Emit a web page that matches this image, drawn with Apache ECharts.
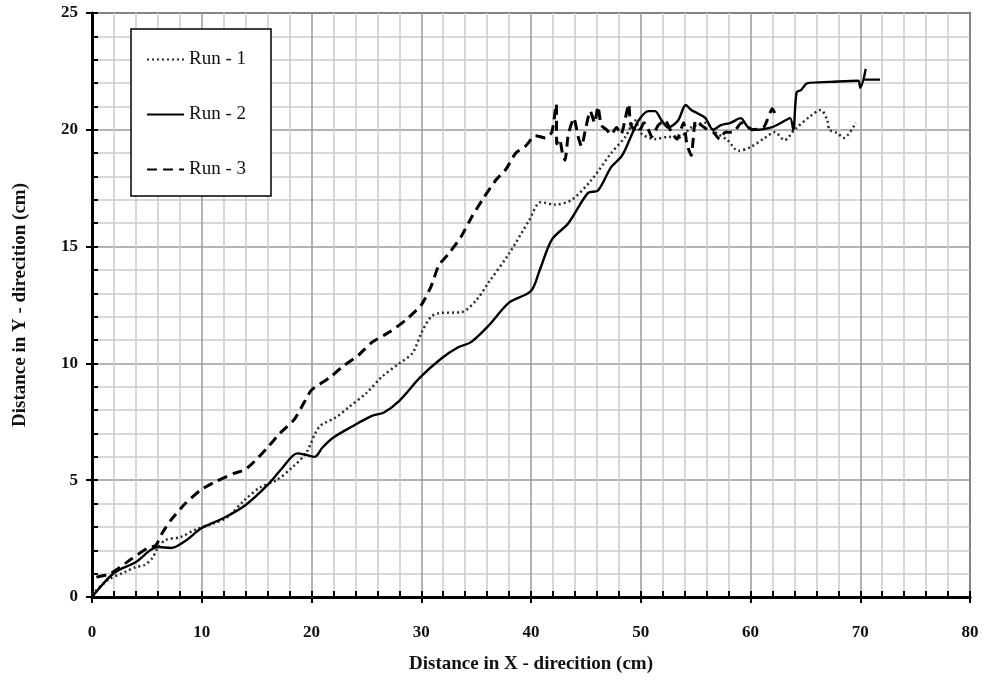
<!DOCTYPE html>
<html>
<head>
<meta charset="utf-8">
<script src="https://cdn.jsdelivr.net/npm/echarts@6/dist/echarts.min.js"></script>
<style>html,body{margin:0;padding:0;background:#fff;}#c{width:988px;height:683px;}</style>
</head>
<body>
<div id="c"></div>
<script>
var seriesNames = ['Run - 1', 'Run - 2', 'Run - 3'];
var xTickLabels = ['0','10','20','30','40','50','60','70','80'];
var yTickLabels = ['0','5','10','15','20','25'];

var run1X = [0,1.45,3.0,4.0,4.8,5.5,6.0,6.7,8.1,9.35,11.2,12.35,13.9,15.35,16.8,18.3,19.5,20.7,22.25,23.4,25.0,26.4,28.0,29.2,30.0,30.9,31.6,33.7,35.0,36.1,38.0,39.8,40.9,42.2,43.7,45.5,47.3,48.6,49.5,50.0,51.3,52.5,53.4,54.6,55.9,56.8,57.9,58.9,60.0,61.3,62.2,63.1,64.0,65.5,66.4,67.0,67.2,67.9,68.5,69.6];
var run1Y = [0.1,0.73,1.07,1.28,1.37,1.67,2.1,2.44,2.57,2.87,3.17,3.42,4.15,4.7,5.0,5.57,6.16,7.28,7.7,8.13,8.73,9.42,10.0,10.44,11.3,12.0,12.15,12.2,12.7,13.44,14.7,16.1,16.9,16.8,17.0,17.85,19.0,19.7,20.4,19.86,19.6,19.7,19.65,20.1,20.3,19.9,19.56,19.1,19.26,19.65,19.9,19.56,20.0,20.6,20.85,20.4,20.0,19.86,19.65,20.3];

var run2X = [0,2.0,4.0,5.3,6.0,7.2,8.5,10.0,12.0,14.0,16.0,17.3,18.7,19.4,20.3,21.0,21.9,23.7,25.5,26.6,28.0,29.9,31.8,33.4,34.5,36.1,38.0,40.0,40.8,41.9,43.4,45.2,46.1,47.3,48.3,49.1,49.8,50.7,51.3,51.9,52.5,53.4,54.1,54.6,55.2,55.9,56.6,57.3,58.2,59.1,59.8,60.7,61.9,62.8,63.6,63.9,64.2,64.6,65.2,67.3,69.8,70.0,70.5,70.3,71.8];
var run2Y = [0,1.03,1.5,2.0,2.14,2.1,2.4,2.95,3.38,3.94,4.8,5.5,6.15,6.1,6.0,6.4,6.8,7.3,7.75,7.9,8.4,9.4,10.2,10.7,10.9,11.6,12.6,13.1,14.0,15.3,16.0,17.3,17.4,18.4,18.9,19.7,20.4,20.8,20.8,20.4,20.1,20.4,21.06,20.85,20.7,20.5,20.0,20.2,20.3,20.5,20.1,20.0,20.1,20.3,20.5,20.0,21.6,21.7,22.0,22.05,22.1,21.8,22.6,22.15,22.15];

var run3X = [0.4,1.7,3.5,5.1,5.8,6.4,7.2,8.5,9.9,11.2,13.0,13.9,14.8,16.0,17.1,18.4,19.3,20.0,21.6,22.8,24.3,25.5,27.1,28.6,30.0,30.9,31.6,32.5,33.6,34.6,35.7,36.8,37.7,38.6,39.5,40.4,41.3,41.9,42.3,42.35,42.6,42.9,43.1,43.4,43.9,44.3,44.6,45.0,45.4,45.8,46.1,46.4,46.9,47.3,47.8,48.2,48.6,48.9,49.1,49.8,50.3,50.8,51.0,51.6,52.2,52.8,53.3,53.9,54.2,54.6,55.0,55.5,56.1,56.6,57.2,57.7,58.4,59.2,60.2,61.2,62.0,62.3];
var run3Y = [0.85,1.0,1.6,2.1,2.2,2.74,3.3,4.0,4.58,4.92,5.3,5.44,5.8,6.4,7.0,7.58,8.3,8.86,9.37,9.85,10.36,10.9,11.34,11.86,12.5,13.3,14.2,14.7,15.4,16.27,17.1,17.85,18.3,19.0,19.3,19.75,19.65,19.9,21.1,19.4,19.6,18.9,18.7,19.8,20.5,19.7,19.3,20.1,20.8,20.3,21.0,20.2,20.0,19.8,20.1,19.8,20.5,21.1,20.2,19.9,20.3,19.9,19.7,20.2,20.4,19.9,19.6,20.3,19.4,18.9,20.4,20.2,20.0,19.9,19.6,19.9,19.9,20.3,20.0,20.1,20.9,20.6];

function pairs(xs, ys){ return xs.map(function(x,i){ return [x, ys[i]]; }); }

var font = 'Liberation Serif';
var chart = echarts.init(document.getElementById('c'));
var axisCommon = {
  type: 'value',
  axisLine: {show: true, onZero: false, lineStyle: {color: '#000', width: 3}},
  axisTick: {show: true, inside: false, length: 6, lineStyle: {color: '#000', width: 2}},
  splitLine: {show: true, lineStyle: {color: '#9a9a9a', width: 1.5}},
  minorSplitLine: {show: true, lineStyle: {color: '#cccccc', width: 1.5}},
  axisLabel: {color: '#111', fontFamily: font, fontWeight: 'bold', fontSize: 17},
  nameLocation: 'middle',
  nameTextStyle: {color: '#111', fontFamily: font, fontWeight: 'bold', fontSize: 19}
};
var innerTicks = {
  type: 'value',
  axisLine: {show: false},
  axisLabel: {show: false},
  splitLine: {show: false},
  axisTick: {show: true, inside: true, length: 6, lineStyle: {color: '#000', width: 2}}
};
chart.setOption({
  animation: false,
  backgroundColor: '#fff',
  grid: {left: 92, right: 18, top: 13, bottom: 86, show: true, borderColor: '#444', borderWidth: 2, backgroundColor: 'transparent'},
  legend: {
    data: seriesNames,
    orient: 'vertical',
    left: 131, top: 29,
    padding: [21, 25, 17, 15],
    itemWidth: 37, itemHeight: 14, itemGap: 36,
    backgroundColor: '#fff',
    borderColor: '#000', borderWidth: 1.5, borderRadius: 0,
    itemStyle: {color: 'rgba(0,0,0,0)', borderColor: 'rgba(0,0,0,0)', borderWidth: 0, opacity: 0},
    textStyle: {color: '#111', fontFamily: font, fontSize: 19}
  },
  xAxis: [
    Object.assign({}, axisCommon, {
      min: 0, max: 80, interval: 10,
      minorTick: {show: false, splitNumber: 5},
      axisLabel: Object.assign({}, axisCommon.axisLabel, {margin: 27, formatter: function(v){ return xTickLabels[Math.round(v/10)]; }}),
      name: 'Distance in X - direcition (cm)', nameGap: 58, position: 'bottom'
    }),
    Object.assign({}, innerTicks, {min: 0, max: 80, interval: 2, position: 'bottom', gridIndex: 0})
  ],
  yAxis: [
    Object.assign({}, axisCommon, {
      min: 0, max: 25, interval: 5,
      minorTick: {show: false, splitNumber: 5},
      axisLabel: Object.assign({}, axisCommon.axisLabel, {margin: 14, formatter: function(v){ return yTickLabels[Math.round(v/5)]; }}),
      name: 'Distance in Y - direcition (cm)', nameGap: 62, position: 'left'
    }),
    Object.assign({}, innerTicks, {min: 0, max: 25, interval: 1, position: 'left', gridIndex: 0})
  ],
  series: [
    {name: seriesNames[0], type: 'line', data: pairs(run1X, run1Y), symbol: 'none', smooth: 0.3,
     lineStyle: {color: '#2a2a2a', width: 2.5, type: [2, 3]}, itemStyle: {color: '#2a2a2a'}, z: 3},
    {name: seriesNames[1], type: 'line', data: pairs(run2X, run2Y), symbol: 'none', smooth: 0.3,
     lineStyle: {color: '#000', width: 2.4, type: 'solid'}, itemStyle: {color: '#000'}, z: 4},
    {name: seriesNames[2], type: 'line', data: pairs(run3X, run3Y), symbol: 'none', smooth: 0.2,
     lineStyle: {color: '#000', width: 3, type: [10, 6]}, itemStyle: {color: '#000'}, z: 5}
  ]
});
</script>
</body>
</html>
